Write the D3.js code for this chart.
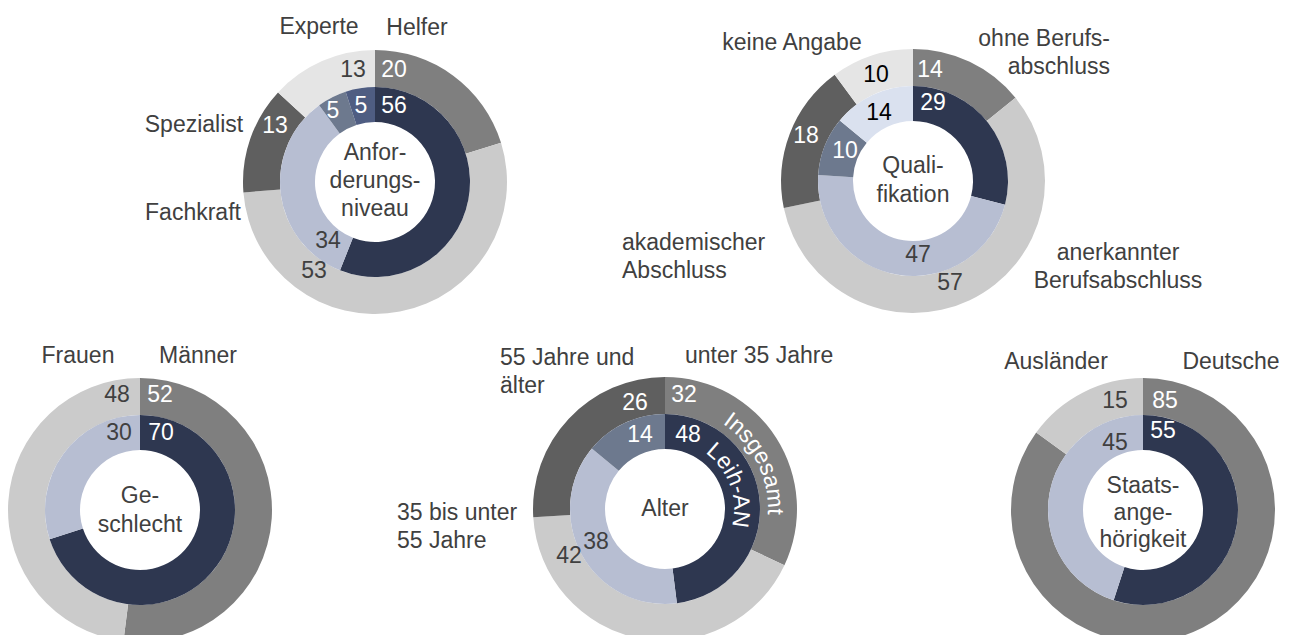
<!DOCTYPE html>
<html>
<head>
<meta charset="utf-8">
<script src="https://cdn.jsdelivr.net/npm/d3@7"></script>
<style>
  body { margin: 0; background: #fff; }
  text { font-family: "Liberation Sans", Arial, sans-serif; font-size: 23px; fill: #404040; }
</style>
</head>
<body>
<svg id="chart"></svg>
<script>
// data: Insgesamt = outer ring, Leih-AN = inner ring (percent)
const anfCategories = ["Helfer", "Fachkraft", "Spezialist", "Experte"];
const anfInsgesamt = [20, 53, 13, 13];
const anfLeihAN = [56, 34, 5, 5];

const quaCategories = ["ohne Berufs-\nabschluss", "anerkannter\nBerufsabschluss", "akademischer\nAbschluss", "keine Angabe"];
const quaInsgesamt = [14, 57, 18, 10];
const quaLeihAN = [29, 47, 10, 14];

const gesCategories = ["Männer", "Frauen"];
const gesInsgesamt = [52, 48];
const gesLeihAN = [70, 30];

const altCategories = ["unter 35 Jahre", "35 bis unter\n55 Jahre", "55 Jahre und\nälter"];
const altInsgesamt = [32, 42, 26];
const altLeihAN = [48, 38, 14];

const staCategories = ["Deutsche", "Ausländer"];
const staInsgesamt = [85, 15];
const staLeihAN = [55, 45];

const titles = ["Anfor-\nderungs-\nniveau", "Quali-\nfikation", "Ge-\nschlecht", "Alter", "Staats-\nange-\nhörigkeit"];

// colours
const navy = "#2e3750", steel = "#b7bed2", slate = "#6d798e", blue = "#4f5d82", pale = "#dae1ef";
const grey = "#7f7f7f", light = "#cbcbcb", dark = "#5f5f5f", faint = "#e5e5e5";
const txt = "#404040";

const W = 1290, H = 635;
const rHole = 60, rMid = 95, rOuter = 132;

// layout (offsets relative to donut centre)
const charts = [
  { cats: anfCategories, outer: anfInsgesamt, inner: anfLeihAN, title: titles[0], cx: 375, cy: 182,
    outerFill: [grey, light, dark, faint], innerFill: [navy, steel, slate, blue],
    outerText: ["#fff", txt, "#fff", txt], innerText: ["#fff", txt, "#fff", "#fff"],
    catPos: [[42, -147, "middle"], [-182, 38, "middle"], [-181, -50, "middle"], [-56, -148, "middle"]],
    outerPos: [[19, -105], [-61, 96], [-100, -49], [-22, -105]],
    innerPos: [[19, -69], [-47, 66], [-42, -64], [-14, -69]],
    titleY: -22, lh: 28 },
  { cats: quaCategories, outer: quaInsgesamt, inner: quaLeihAN, title: titles[1], cx: 913, cy: 181,
    outerFill: [grey, light, dark, faint], innerFill: [navy, steel, slate, pale],
    outerText: ["#fff", txt, "#fff", "#000"], innerText: ["#fff", txt, "#fff", "#000"],
    catPos: [[197, -135, "end"], [205, 79, "middle"], [-291, 69, "start"], [-121, -131, "middle"]],
    outerPos: [[17, -104], [37, 109], [-107, -38], [-37, -99]],
    innerPos: [[20, -71], [5, 81], [-68, -23], [-34, -61]],
    titleY: -8, lh: 29 },
  { cats: gesCategories, outer: gesInsgesamt, inner: gesLeihAN, title: titles[2], cx: 140, cy: 510,
    outerFill: [grey, light], innerFill: [navy, steel],
    outerText: ["#fff", txt], innerText: ["#fff", txt],
    catPos: [[58, -147, "middle"], [-62, -147, "middle"]],
    outerPos: [[20, -108], [-23, -108]],
    innerPos: [[21, -70], [-21, -70]],
    titleY: -7, lh: 29 },
  { cats: altCategories, outer: altInsgesamt, inner: altLeihAN, title: titles[3], cx: 665, cy: 509,
    outerFill: [grey, light, dark], innerFill: [navy, steel, slate],
    outerText: ["#fff", txt, "#fff"], innerText: ["#fff", txt, "#fff"],
    catPos: [[20, -146, "start"], [-268, 11, "start"], [-165, -144, "start"]],
    outerPos: [[19, -107], [-96, 54], [-30, -99]],
    innerPos: [[23, -67], [-69, 40], [-25, -67]],
    titleY: 7, lh: 28,
    ringLabels: [{ text: "Insgesamt", r: 111, angle: 63.5 }, { text: "Leih-AN", r: 77, angle: 70 }] },
  { cats: staCategories, outer: staInsgesamt, inner: staLeihAN, title: titles[4], cx: 1143, cy: 510,
    outerFill: [grey, light], innerFill: [navy, steel],
    outerText: ["#fff", txt], innerText: ["#fff", txt],
    catPos: [[88, -141, "middle"], [-87, -141, "middle"]],
    outerPos: [[22, -102], [-28, -102]],
    innerPos: [[20, -72], [-28, -60]],
    titleY: -17, lh: 27 }
];

const svg = d3.select("#chart").attr("width", W).attr("height", H);

const pie = d3.pie().sort(null).value(d => d);
const arcOuter = d3.arc().innerRadius(rMid).outerRadius(rOuter);
const arcInner = d3.arc().innerRadius(rHole).outerRadius(rMid);

function multiline(sel, str, x, y, lh) {
  str.split("\n").forEach((line, i) => {
    sel.append("tspan").attr("x", x).attr("y", y + i * lh).text(line);
  });
}

charts.forEach((c, ci) => {
  const g = svg.append("g").attr("transform", "translate(" + c.cx + "," + c.cy + ")");

  g.append("g").selectAll("path")
    .data(pie(c.outer))
    .enter().append("path")
    .attr("d", arcOuter)
    .attr("fill", (d, i) => c.outerFill[i]);

  g.append("g").selectAll("path")
    .data(pie(c.inner))
    .enter().append("path")
    .attr("d", arcInner)
    .attr("fill", (d, i) => c.innerFill[i]);

  // values
  g.selectAll("text.vo")
    .data(c.outer)
    .enter().append("text").attr("class", "vo")
    .attr("x", (d, i) => c.outerPos[i][0])
    .attr("y", (d, i) => c.outerPos[i][1])
    .attr("text-anchor", "middle")
    .style("fill", (d, i) => c.outerText[i])
    .text(d => d);

  g.selectAll("text.vi")
    .data(c.inner)
    .enter().append("text").attr("class", "vi")
    .attr("x", (d, i) => c.innerPos[i][0])
    .attr("y", (d, i) => c.innerPos[i][1])
    .attr("text-anchor", "middle")
    .style("fill", (d, i) => c.innerText[i])
    .text(d => d);

  // category labels
  c.cats.forEach((cat, i) => {
    const p = c.catPos[i];
    const t = g.append("text").attr("text-anchor", p[2]);
    multiline(t, cat, p[0], p[1], 28);
  });

  // centre title
  const tt = g.append("text").attr("text-anchor", "middle");
  multiline(tt, c.title, 0, c.titleY, c.lh);

  // curved ring labels
  (c.ringLabels || []).forEach((rl, k) => {
    const rb = rl.r - 8;
    const p = d3.path();
    p.arc(0, 0, rb, -Math.PI / 2, Math.PI / 2);
    const id = "ring" + ci + "_" + k;
    g.append("path").attr("id", id).attr("d", p.toString()).attr("fill", "none");
    g.append("text")
      .style("fill", "#fff")
      .append("textPath")
      .attr("href", "#" + id)
      .attr("startOffset", rb * rl.angle * Math.PI / 180)
      .attr("text-anchor", "middle")
      .text(rl.text);
  });
});
</script>
</body>
</html>
